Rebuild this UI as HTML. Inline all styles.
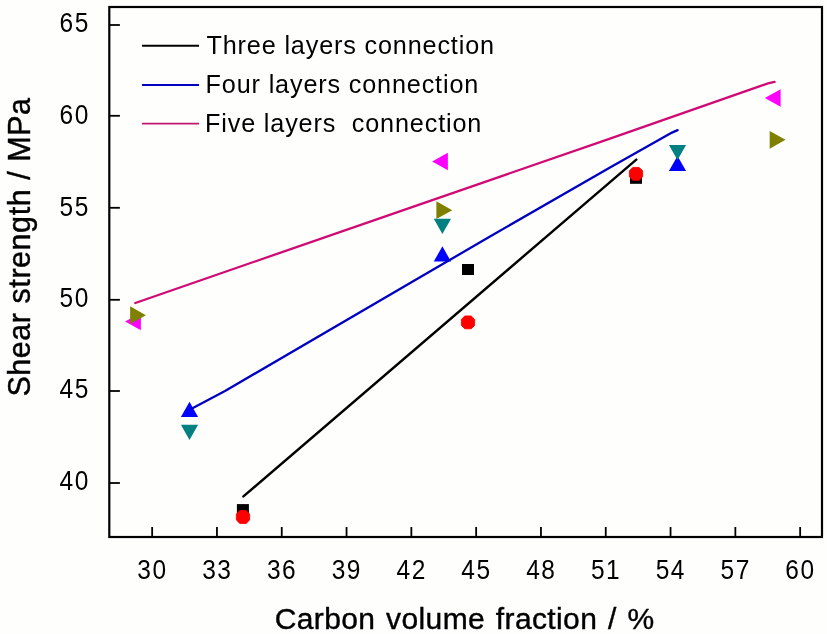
<!DOCTYPE html>
<html lang="en">
<head>
<meta charset="utf-8">
<title>Shear strength vs carbon volume fraction</title>
<style>
html,body{margin:0;padding:0;background:#fefefd;}
body{width:827px;height:634px;overflow:hidden;}
</style>
</head>
<body>
<svg width="827" height="634" viewBox="0 0 827 634" style="display:block">
<rect x="0" y="0" width="827" height="634" fill="#fefefd"/>
<rect x="109.3" y="7.0" width="712.7" height="530.0" fill="none" stroke="#000" stroke-width="2.2"/>
<g stroke="#000" stroke-width="1.8" fill="none">
<line x1="152.15" y1="537.0" x2="152.15" y2="527.0"/>
<line x1="216.95" y1="537.0" x2="216.95" y2="527.0"/>
<line x1="281.75" y1="537.0" x2="281.75" y2="527.0"/>
<line x1="346.55" y1="537.0" x2="346.55" y2="527.0"/>
<line x1="411.35" y1="537.0" x2="411.35" y2="527.0"/>
<line x1="476.15" y1="537.0" x2="476.15" y2="527.0"/>
<line x1="540.95" y1="537.0" x2="540.95" y2="527.0"/>
<line x1="605.75" y1="537.0" x2="605.75" y2="527.0"/>
<line x1="670.55" y1="537.0" x2="670.55" y2="527.0"/>
<line x1="735.35" y1="537.0" x2="735.35" y2="527.0"/>
<line x1="800.15" y1="537.0" x2="800.15" y2="527.0"/>
<line x1="109.3" y1="483.00" x2="119.9" y2="483.00"/>
<line x1="109.3" y1="391.00" x2="119.9" y2="391.00"/>
<line x1="109.3" y1="299.80" x2="119.9" y2="299.80"/>
<line x1="109.3" y1="207.80" x2="119.9" y2="207.80"/>
<line x1="109.3" y1="115.80" x2="119.9" y2="115.80"/>
<line x1="109.3" y1="25.00" x2="119.9" y2="25.00"/>
</g>
<g font-family="'Liberation Sans', Arial, sans-serif" font-size="24.5" fill="#000" letter-spacing="1.5">
<text transform="translate(152.45 578.9) scale(1 1.13)" text-anchor="middle">30</text>
<text transform="translate(217.25 578.9) scale(1 1.13)" text-anchor="middle">33</text>
<text transform="translate(282.05 578.9) scale(1 1.13)" text-anchor="middle">36</text>
<text transform="translate(346.85 578.9) scale(1 1.13)" text-anchor="middle">39</text>
<text transform="translate(411.65 578.9) scale(1 1.13)" text-anchor="middle">42</text>
<text transform="translate(476.45 578.9) scale(1 1.13)" text-anchor="middle">45</text>
<text transform="translate(541.25 578.9) scale(1 1.13)" text-anchor="middle">48</text>
<text transform="translate(606.05 578.9) scale(1 1.13)" text-anchor="middle">51</text>
<text transform="translate(670.85 578.9) scale(1 1.13)" text-anchor="middle">54</text>
<text transform="translate(735.65 578.9) scale(1 1.13)" text-anchor="middle">57</text>
<text transform="translate(800.45 578.9) scale(1 1.13)" text-anchor="middle">60</text>
<text transform="translate(89.8 489.70) scale(1 1.13)" text-anchor="end">40</text>
<text transform="translate(89.8 398.40) scale(1 1.13)" text-anchor="end">45</text>
<text transform="translate(89.8 306.60) scale(1 1.13)" text-anchor="end">50</text>
<text transform="translate(89.8 215.50) scale(1 1.13)" text-anchor="end">55</text>
<text transform="translate(89.8 123.70) scale(1 1.13)" text-anchor="end">60</text>
<text transform="translate(89.8 31.80) scale(1 1.13)" text-anchor="end">65</text>
</g>
<text x="464.6" y="628.5" text-anchor="middle" font-family="'Liberation Sans', Arial, sans-serif" font-size="30" letter-spacing="0.38" word-spacing="2" fill="#000" stroke="#000" stroke-width="0.4">Carbon volume fraction / %</text>
<text transform="translate(29.8 247.0) rotate(-90)" text-anchor="middle" font-family="'Liberation Sans', Arial, sans-serif" font-size="30.5" letter-spacing="0.55" fill="#000" stroke="#000" stroke-width="0.4">Shear strength / MPa</text>
<g stroke-width="1.9" fill="none">
<line x1="142" y1="45.7" x2="199" y2="45.7" stroke="#000"/>
<line x1="142" y1="85" x2="199" y2="85" stroke="#0000c0"/>
<line x1="142" y1="123.6" x2="199" y2="123.6" stroke="#c01870"/>
</g>
<g font-family="'Liberation Sans', Arial, sans-serif" font-size="25.2" letter-spacing="0.85" fill="#000">
<text x="206.5" y="53.9">Three layers connection</text>
<text x="205.6" y="92.5">Four layers connection</text>
<text x="205" y="131.6" xml:space="preserve" style="white-space:pre">Five layers  connection</text>
</g>
<polygon points="140.90,312.65 140.90,330.15 125.10,321.40" fill="#ff00ff"/>
<polygon points="130.10,306.30 130.10,324.10 145.90,315.20" fill="#808000"/>
<polygon points="180.90,424.75 198.10,424.75 189.50,439.95" fill="#008080"/>
<polygon points="180.90,417.00 198.10,417.00 189.50,401.80" fill="#0000ff"/>
<rect x="236.90" y="504.10" width="12" height="11" fill="#000"/>
<polygon points="239.80,510.60 246.20,510.60 249.60,514.00 249.60,520.00 246.20,523.40 239.80,523.40 236.40,520.00 236.40,514.00" fill="#ff0000" stroke="#ff0000" stroke-width="0.9" stroke-linejoin="round"/>
<polygon points="447.90,152.75 447.90,170.25 432.10,161.50" fill="#ff00ff"/>
<polygon points="436.40,201.30 436.40,219.10 452.20,210.20" fill="#808000"/>
<polygon points="433.80,218.80 451.00,218.80 442.40,234.00" fill="#008080"/>
<polygon points="433.80,261.50 451.00,261.50 442.40,246.30" fill="#0000ff"/>
<rect x="462.00" y="264.00" width="12" height="11" fill="#000"/>
<polygon points="464.80,316.00 471.20,316.00 474.60,319.40 474.60,325.40 471.20,328.80 464.80,328.80 461.40,325.40 461.40,319.40" fill="#ff0000" stroke="#ff0000" stroke-width="0.9" stroke-linejoin="round"/>
<rect x="630.00" y="172.80" width="12" height="11" fill="#000"/>
<polygon points="632.80,167.40 639.20,167.40 642.60,170.80 642.60,176.80 639.20,180.20 632.80,180.20 629.40,176.80 629.40,170.80" fill="#ff0000" stroke="#ff0000" stroke-width="0.9" stroke-linejoin="round"/>
<polygon points="668.90,171.10 686.10,171.10 677.50,155.90" fill="#0000ff"/>
<polygon points="668.90,144.90 686.10,144.90 677.50,160.10" fill="#008080"/>
<polygon points="780.60,89.25 780.60,106.75 764.80,98.00" fill="#ff00ff"/>
<polygon points="769.70,130.90 769.70,148.70 785.50,139.80" fill="#808000"/>
<g fill="none" stroke-linecap="round">
<path d="M243.4 496.4 L636.3 159.6" stroke="#000" stroke-width="2.4"/>
<path d="M191.5 408.8 L225 391 L420 277.3 L490 236.5 L610 167.4 L672 132.6 L677.6 130.1" stroke="#0000c0" stroke-width="2.3" stroke-linejoin="round"/>
<path d="M135.3 303 L420 204.3 L610 138.6 L740 93.2 L768 83.4 L774.6 81.9" stroke="#d00a74" stroke-width="2.3" stroke-linejoin="round"/>
</g>
</svg>
</body>
</html>
